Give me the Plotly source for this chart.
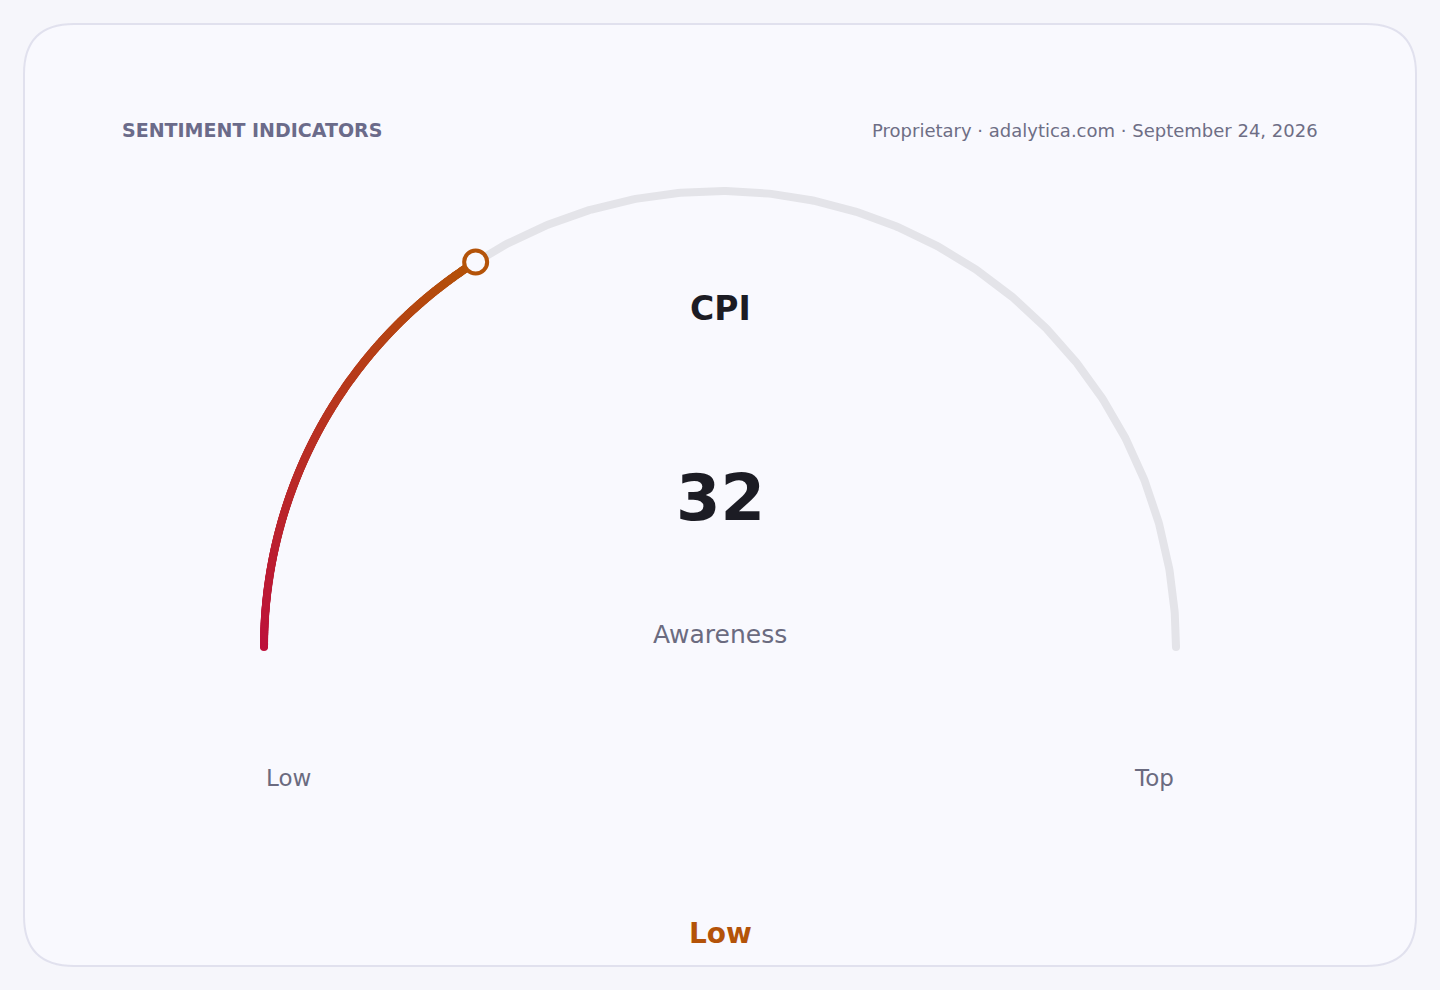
import numpy as np
import plotly.graph_objects as go

# Gauge data
indicator_name = "CPI"
indicator_value = 32
value_min = 0
value_max = 100
subtitle = "Awareness"
range_labels = ["Low", "Top"]
status_label = "Low"

header_left = "SENTIMENT INDICATORS"
header_right = "Proprietary · adalytica.com · September 24, 2026"

# Colours
bg_page = "#f6f6fb"
bg_card = "#f9f9fe"
card_border = "#e1e1ee"
track_color = "#e4e4e9"
start_rgb = (190, 18, 60)    # crimson
end_rgb = (180, 83, 9)       # amber
status_color = "#b45309"
FONT = "DejaVu Sans"

# Geometry (pixel-like units, y up)
W, H = 1440, 990
cx, cy, R = 720, 343, 456


def angle_of(v):
    return np.pi * (1 - (v - value_min) / (value_max - value_min))


fig = go.Figure()

# grey track
t = np.linspace(angle_of(value_min), angle_of(value_max), 600)
fig.add_trace(go.Scatter(x=cx + R * np.cos(t), y=cy + R * np.sin(t), mode="lines",
                         line=dict(color=track_color, width=8), hoverinfo="skip"))
fig.add_trace(go.Scatter(x=[cx + R * np.cos(t[-1])], y=[cy + R * np.sin(t[-1])], mode="markers",
                         marker=dict(color=track_color, size=8), hoverinfo="skip"))

# gradient value arc (dense markers so colour can change along the arc)
tv = np.linspace(angle_of(value_min), angle_of(indicator_value), 500)
frac = np.linspace(0, 1, len(tv))
cols = [f"rgb({int(start_rgb[0] + (end_rgb[0] - start_rgb[0]) * f)},"
        f"{int(start_rgb[1] + (end_rgb[1] - start_rgb[1]) * f)},"
        f"{int(start_rgb[2] + (end_rgb[2] - start_rgb[2]) * f)})" for f in frac]
fig.add_trace(go.Scatter(x=cx + R * np.cos(tv), y=cy + R * np.sin(tv), mode="markers",
                         marker=dict(color=cols, size=8, line=dict(width=0)), hoverinfo="skip"))

# value knob
fig.add_trace(go.Scatter(x=[cx + R * np.cos(tv[-1])], y=[cy + R * np.sin(tv[-1])], mode="markers",
                         marker=dict(color=bg_card, size=23, line=dict(color=status_color, width=4)),
                         hoverinfo="skip"))

# rounded card
x0, y0, x1, y1, r = 24, 24, 1416, 966, 50
card_path = (f"M {x0+r},{y0} L {x1-r},{y0} Q {x1},{y0} {x1},{y0+r} L {x1},{y1-r} "
             f"Q {x1},{y1} {x1-r},{y1} L {x0+r},{y1} Q {x0},{y1} {x0},{y1-r} "
             f"L {x0},{y0+r} Q {x0},{y0} {x0+r},{y0} Z")
fig.add_shape(type="path", path=card_path, xref="x", yref="y", layer="below",
              fillcolor=bg_card, line=dict(color=card_border, width=2))

ann = [
    dict(x=120, y=860, text=f"<b>{header_left}</b>", xanchor="left",
         font=dict(size=19, color="#6b6b8a")),
    dict(x=1320, y=860, text=header_right, xanchor="right",
         font=dict(size=18, color="#6e6e85")),
    dict(x=cx, y=682, text=f"<b>{indicator_name}</b>", font=dict(size=33, color="#1c1c24")),
    dict(x=cx, y=492, text=f"<b>{indicator_value}</b>", font=dict(size=64, color="#1c1c24")),
    dict(x=cx, y=356, text=subtitle, font=dict(size=25, color="#6b6b80")),
    dict(x=cx - R, y=212, text=range_labels[0], xanchor="left", font=dict(size=23, color="#6b6b80")),
    dict(x=cx + R, y=212, text=range_labels[1], xanchor="right", font=dict(size=23, color="#6b6b80")),
    dict(x=cx, y=57, text=f"<b>{status_label}</b>", font=dict(size=28, color=status_color)),
]
for a in ann:
    a.update(xref="x", yref="y", showarrow=False, yanchor="middle")
    a.setdefault("xanchor", "center")

fig.update_layout(
    width=W, height=H, autosize=False,
    margin=dict(l=0, r=0, t=0, b=0),
    paper_bgcolor=bg_page, plot_bgcolor=bg_page,
    showlegend=False,
    font=dict(family=FONT),
    annotations=ann,
    xaxis=dict(range=[0, W], visible=False, fixedrange=True),
    yaxis=dict(range=[0, H], visible=False, fixedrange=True),
)

fig.write_html("out.html", config={"displayModeBar": False},
               post_script="document.body.style.margin='0';document.body.style.overflow='hidden';")
